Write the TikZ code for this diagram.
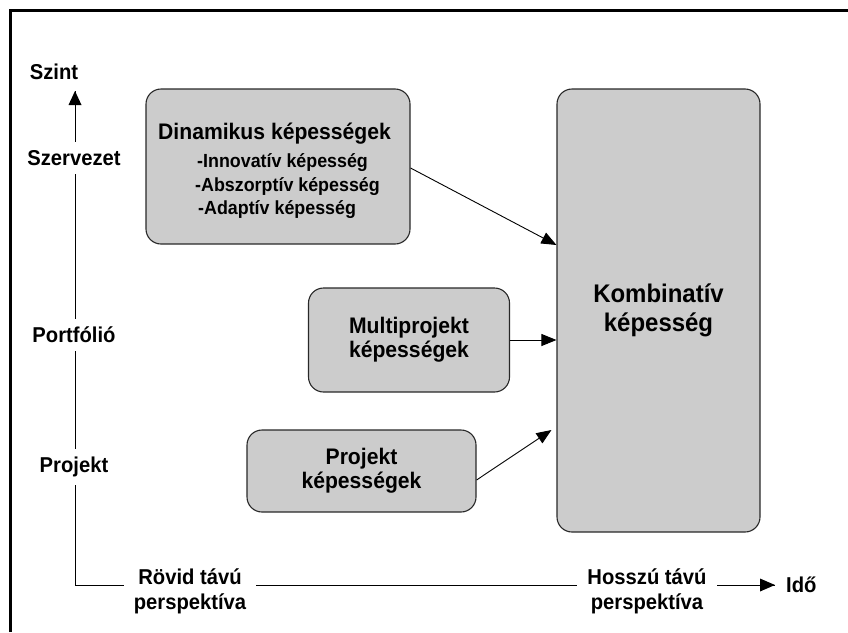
\documentclass[tikz,border=0pt]{standalone}
\usepackage{fontspec}
\setmainfont{Liberation Sans}[FakeStretch=0.94]
\usetikzlibrary{arrows.meta,calc}
\definecolor{boxfill}{RGB}{204,204,204}
\definecolor{boxline}{RGB}{40,40,40}
\begin{document}
\begin{tikzpicture}[x=1pt,y=-1pt,
  capbox/.style={draw=boxline,line width=1.1pt,fill=boxfill,rounded corners=15pt,
    inner sep=0pt,align=center,font=\bfseries\fontsize{22.5}{24}\selectfont},
  axislabel/.style={fill=white,inner xsep=10pt,inner ysep=8pt,align=center,
    font=\bfseries\fontsize{21.5}{25}\selectfont},
  subitem/.style={anchor=base west,inner sep=0pt,font=\bfseries\fontsize{19}{20}\selectfont},
  flow/.style={line width=0.9pt,-{Triangle[length=15pt,width=12pt]}},
  axis/.style={line width=0.9pt}]
\useasboundingbox (0,0) rectangle (848,632);

% outer frame (top and left edges)
\draw[line width=3pt] (10,632) -- (10,10) -- (848,10);

% level / time axes
\coordinate (corner) at (75,585);
\coordinate (uptip) at (75,91);
\coordinate (righttip) at (775,585);
\draw[axis] (corner) -- (righttip);
\draw[axis] (corner) -- (uptip);
\fill (uptip) -- ++(-6.5,14) -- ++(13,0) -- cycle;
\fill (righttip) -- ++(-15,-6.5) -- ++(0,13) -- cycle;

\node[axislabel,fill=none] (szint) at (54,72) {Szint};
\node[axislabel] (szervezet) at (74,158) {Szervezet};
\node[axislabel] (portfolio) at (74,335) {Portfólió};
\node[axislabel] (projektszint) at (74,467) {Projekt};
\node[axislabel] (rovid) at (190,591) {Rövid távú\\perspektíva};
\node[axislabel] (hosszu) at (647,591) {Hosszú távú\\perspektíva};
\node[axislabel,fill=none,anchor=west,inner xsep=0pt] (ido) at (786,585) {Idő};

% capability boxes
\node[capbox,minimum width=264pt,minimum height=155pt] (dyn) at (278,166.5) {};
\node[anchor=base west,inner sep=0pt,font=\bfseries\fontsize{22.5}{24}\selectfont] (dyntitle) at (158,139) {Dinamikus képességek};
\node[subitem] (innov) at (197,167) {-Innovatív képesség};
\node[subitem] (abszorp) at (195,191) {-Abszorptív képesség};
\node[subitem] (adapt) at (198,214) {-Adaptív képesség};

\node[capbox,minimum width=201pt,minimum height=104pt] (multi) at (409,340) {Multiprojekt\\képességek};
\node[capbox,minimum width=229pt,minimum height=82pt] (proj) at (361.5,471) {Projekt\\képességek};
\node[capbox,minimum width=203pt,minimum height=443pt,
  font=\bfseries\fontsize{25.5}{29}\selectfont] (komb) at (658.5,310.5) {Kombinatív\\képesség};

% contributions to the combinative capability
\draw[flow] ($(dyn.east)+(0,1.5)$) -- ($(komb.west)+(0,-65.5)$);
\draw[flow] (multi.east) -- (komb.west |- multi.east);
\draw[flow] ($(proj.east)+(0,9)$) -- ($(komb.west)+(-5,119.5)$);
\end{tikzpicture}
\end{document}
